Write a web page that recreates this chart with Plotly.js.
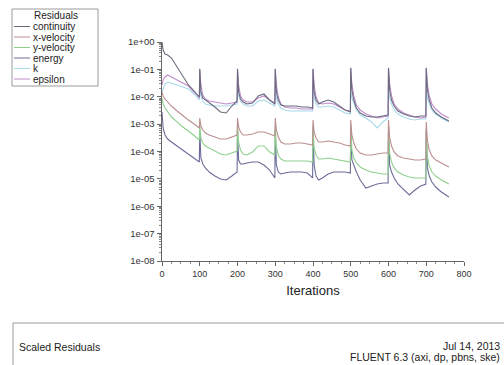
<!DOCTYPE html>
<html>
<head>
<meta charset="utf-8">
<script src="https://cdn.plot.ly/plotly-3.0.1.min.js"></script>
<style>html,body{margin:0;padding:0;background:#fff;}#chart{width:504px;height:365px;}</style>
</head>
<body>
<div id="chart"></div>
<script>
// ---- data ----
const iterations = [
0,3,8,15,25,40,55,70,85,99,
100,103,108,115,125,140,155,170,185,199,
200,203,208,215,225,240,255,270,285,299,
300,303,308,315,325,340,355,370,385,399,
400,403,408,415,425,440,455,470,485,499,
500,503,508,515,525,540,555,570,585,599,
600,603,608,615,625,640,655,670,685,699,
700,703,708,715,725,740,755,760];

const continuity = [
1,0.51,0.364,0.335,0.26,0.122,0.0527,0.0269,0.0162,0.00979,
0.105,0.0149,0.009,0.00761,0.00643,0.00422,0.00277,0.00255,0.00459,0.00699,
0.105,0.0149,0.00827,0.00643,0.00543,0.00591,0.0107,0.0126,0.00761,0.00543,
0.105,0.0149,0.00761,0.00499,0.00459,0.00459,0.00459,0.00422,0.00422,0.00388,
0.105,0.0149,0.00761,0.00543,0.00643,0.00761,0.00643,0.00459,0.00328,0.00277,
0.115,0.0176,0.00761,0.00388,0.00255,0.00198,0.00182,0.00182,0.00198,0.00215,
0.115,0.0176,0.00761,0.00459,0.00302,0.00234,0.00198,0.00182,0.00198,0.00198,
0.115,0.0176,0.00761,0.00388,0.00255,0.00182,0.00141,0.0013];

const xVelocity = [
0.0149,0.0107,0.00827,0.00643,0.00459,0.00302,0.00198,0.00141,0.00101,0.000722,
0.00167,0.000854,0.00061,0.000474,0.000401,0.000339,0.000286,0.000286,0.000339,0.000401,
0.00167,0.000785,0.000516,0.000401,0.000401,0.000436,0.000516,0.000516,0.000436,0.000368,
0.00167,0.00061,0.000339,0.000222,0.000188,0.000188,0.000204,0.000204,0.000188,0.000173,
0.00141,0.000516,0.000311,0.000222,0.000222,0.000242,0.000222,0.000204,0.000173,0.000159,
0.00141,0.000401,0.000204,0.000123,8.81e-5,7.45e-5,7.45e-5,8.1e-5,8.81e-5,8.81e-5,
0.00141,0.000339,0.000159,9.59e-5,6.85e-5,5.79e-5,5.32e-5,4.89e-5,4.89e-5,5.32e-5,
0.0012,0.000263,0.000113,6.85e-5,4.89e-5,3.8e-5,2.95e-5,2.72e-5];

const yVelocity = [
0.009,0.00543,0.00388,0.00277,0.00182,0.0012,0.000785,0.000561,0.000368,0.000263,
0.00101,0.000311,0.000204,0.000159,0.000134,0.000104,8.1e-5,7.45e-5,8.81e-5,0.000104,
0.000929,0.000222,0.000113,8.1e-5,7.45e-5,9.59e-5,0.000159,0.000159,9.59e-5,7.45e-5,
0.000854,0.000146,7.45e-5,5.32e-5,4.5e-5,4.5e-5,4.5e-5,4.5e-5,4.5e-5,4.13e-5,
0.000854,0.000134,7.45e-5,5.32e-5,5.32e-5,5.79e-5,5.32e-5,4.89e-5,4.5e-5,4.13e-5,
0.000854,0.000113,5.79e-5,3.8e-5,2.72e-5,2.11e-5,1.78e-5,1.64e-5,1.51e-5,1.51e-5,
0.000785,8.81e-5,4.13e-5,2.5e-5,1.78e-5,1.39e-5,1.17e-5,1.08e-5,1.08e-5,1.08e-5,
0.000722,6.85e-5,2.95e-5,1.78e-5,1.27e-5,9.1e-6,7.07e-6,6.5e-6];

const energy = [
0.00277,0.000722,0.000401,0.000286,0.000222,0.000159,0.000113,8.1e-5,5.79e-5,4.13e-5,
0.00061,5.79e-5,3.49e-5,2.5e-5,1.78e-5,1.27e-5,9.9e-6,9.1e-6,1.27e-5,1.78e-5,
0.00061,4.89e-5,3.49e-5,3.49e-5,3.8e-5,4.13e-5,4.13e-5,3.21e-5,2.11e-5,1.08e-5,
0.00061,3.21e-5,1.78e-5,1.51e-5,1.64e-5,1.78e-5,1.78e-5,1.78e-5,1.64e-5,1.08e-5,
0.00061,3.21e-5,1.27e-5,9.1e-6,1.08e-5,1.51e-5,1.78e-5,1.78e-5,1.78e-5,1.64e-5,
0.00061,4.89e-5,2.95e-5,1.78e-5,9.1e-6,4.64e-6,5.49e-6,6.5e-6,7.07e-6,7.07e-6,
0.00061,3.21e-5,1.78e-5,1.08e-5,6.5e-6,3.92e-6,2.58e-6,3.92e-6,5.49e-6,6.5e-6,
0.00061,2.5e-5,1.27e-5,7.69e-6,5.05e-6,3.32e-6,2.37e-6,2.18e-6];

const kResidual = [
0.0149,0.0209,0.0292,0.0346,0.0318,0.0269,0.0227,0.0192,0.0126,0.00761,
0.0209,0.0107,0.00699,0.00543,0.00499,0.00459,0.00459,0.00459,0.00499,0.00543,
0.0209,0.0107,0.00699,0.00543,0.00459,0.00459,0.00699,0.00761,0.00591,0.00459,
0.0176,0.009,0.00543,0.00388,0.00328,0.00302,0.00302,0.00302,0.00302,0.00302,
0.0176,0.009,0.00543,0.00422,0.00422,0.00459,0.00422,0.00328,0.00255,0.00234,
0.0176,0.009,0.00543,0.00328,0.00215,0.00167,0.0012,0.000722,0.0012,0.00167,
0.0176,0.009,0.00543,0.00328,0.00234,0.00182,0.00154,0.00141,0.00154,0.00154,
0.0176,0.009,0.00543,0.00328,0.00234,0.00167,0.0013,0.0012];

const epsilon = [
0.0269,0.0409,0.0527,0.0623,0.0527,0.0409,0.0318,0.0247,0.0149,0.009,
0.1,0.0269,0.0116,0.00827,0.00699,0.00643,0.00591,0.00543,0.00591,0.00643,
0.1,0.0269,0.0107,0.00761,0.00643,0.00643,0.009,0.0107,0.00761,0.00591,
0.1,0.0269,0.00979,0.00543,0.00422,0.00388,0.00388,0.00357,0.00357,0.00357,
0.1,0.0269,0.00979,0.00591,0.00543,0.00591,0.00543,0.00422,0.00328,0.00302,
0.11,0.0292,0.0107,0.00499,0.00328,0.00234,0.00198,0.00167,0.00182,0.00198,
0.11,0.0292,0.0107,0.00543,0.00357,0.00255,0.00215,0.00182,0.00167,0.00182,
0.11,0.0292,0.0107,0.00543,0.00357,0.00234,0.00182,0.00167];

const seriesNames = ["continuity","x-velocity","y-velocity","energy","k","epsilon"];
const seriesValues = [continuity, xVelocity, yVelocity, energy, kResidual, epsilon];
const seriesColors = ["#6a6a7e","#bb8f8f","#8fd08f","#6c6c9a","#a6d8ea","#c08ccb"];

const yTickVals = [1,1e-1,1e-2,1e-3,1e-4,1e-5,1e-6,1e-7,1e-8];
const yTickText = ["1e+00","1e-01","1e-02","1e-03","1e-04","1e-05","1e-06","1e-07","1e-08"];
const xTickVals = [0,100,200,300,400,500,600,700,800];

const legendTitle = "Residuals";
const xTitle = "Iterations";
const footerLeft = "Scaled Residuals";
const footerDate = "Jul 14, 2013";
const footerInfo = "FLUENT 6.3 (axi, dp, pbns, ske)";

// ---- layout helpers (pixel -> paper) ----
const W = 504, H = 365;
const PL = 162, PR = 464, PT = 42, PB = 261;
const px = v => (v - PL) / (PR - PL);
const py = v => (PB - v) / (PB - PT);
const FONT = "Liberation Sans, Arial, sans-serif";

// draw order: energy / velocities below, k, epsilon, continuity on top
const order = [3,2,1,4,5,0];
const traces = order.map(i => ({
  type: "scatter", mode: "lines",
  x: iterations, y: seriesValues[i], name: seriesNames[i],
  line: {color: seriesColors[i], width: 1.1},
  hoverinfo: "skip", showlegend: false
}));

const shapes = [];
const annotations = [];
// legend box
shapes.push({type:"rect", xref:"paper", yref:"paper", x0:px(12), x1:px(98), y0:py(9), y1:py(86),
  line:{color:"#9a9a9a", width:1}, fillcolor:"rgba(0,0,0,0)"});
annotations.push({xref:"paper", yref:"paper", x:px(56), y:py(16), text:legendTitle, showarrow:false,
  xanchor:"center", yanchor:"middle", font:{family:FONT, size:10, color:"#222"}});
seriesNames.forEach((n, i) => {
  const rowY = 26.5 + i * 10.5;
  shapes.push({type:"line", xref:"paper", yref:"paper", x0:px(14), x1:px(30), y0:py(rowY), y1:py(rowY),
    line:{color:seriesColors[i], width:1}});
  annotations.push({xref:"paper", yref:"paper", x:px(31), y:py(rowY), text:n, showarrow:false,
    xanchor:"left", yanchor:"middle", font:{family:FONT, size:10, color:"#222"}});
});
// footer box
shapes.push({type:"rect", xref:"paper", yref:"paper", x0:px(13), x1:px(530), y0:py(323), y1:py(400),
  line:{color:"#9a9a9a", width:1}, fillcolor:"rgba(0,0,0,0)"});
annotations.push({xref:"paper", yref:"paper", x:px(17), y:py(347), text:footerLeft, showarrow:false,
  xanchor:"left", yanchor:"middle", font:{family:FONT, size:10.5, color:"#222"}});
annotations.push({xref:"paper", yref:"paper", x:px(502), y:py(346), text:footerDate, showarrow:false,
  xanchor:"right", yanchor:"middle", font:{family:FONT, size:10.5, color:"#222"}});
annotations.push({xref:"paper", yref:"paper", x:px(502), y:py(356.5), text:footerInfo, showarrow:false,
  xanchor:"right", yanchor:"middle", font:{family:FONT, size:10.5, color:"#222"}});

const layout = {
  width: W, height: H,
  margin: {l: PL, r: W - PR, t: PT, b: H - PB, pad: 0},
  paper_bgcolor: "#fff", plot_bgcolor: "#fff",
  showlegend: false,
  font: {family: FONT, color: "#333"},
  xaxis: {
    range: [0, 800], tickmode: "array", tickvals: xTickVals,
    ticks: "outside", ticklen: 4, tickcolor: "#666", showline: true, linecolor: "#666", linewidth: 1,
    showgrid: false, zeroline: false,
    tickfont: {family: FONT, size: 9, color: "#333"},
    minor: {dtick: 25, tick0: 0, ticks: "outside", ticklen: 2, tickcolor: "#888", showgrid: false},
    title: {text: xTitle, font: {family: FONT, size: 13, color: "#222"}, standoff: 8}
  },
  yaxis: {
    type: "log", range: [-8, 0], tickmode: "array", tickvals: yTickVals, ticktext: yTickText,
    ticks: "outside", ticklen: 4, tickcolor: "#666", showline: true, linecolor: "#666", linewidth: 1.5,
    showgrid: false, zeroline: false,
    tickfont: {family: FONT, size: 9.5, color: "#333"},
    minor: {dtick: "D1", ticks: "outside", ticklen: 2, tickcolor: "#888", showgrid: false}
  },
  shapes: shapes,
  annotations: annotations
};

Plotly.newPlot("chart", traces, layout, {displayModeBar: false, staticPlot: true});
</script>
</body>
</html>
